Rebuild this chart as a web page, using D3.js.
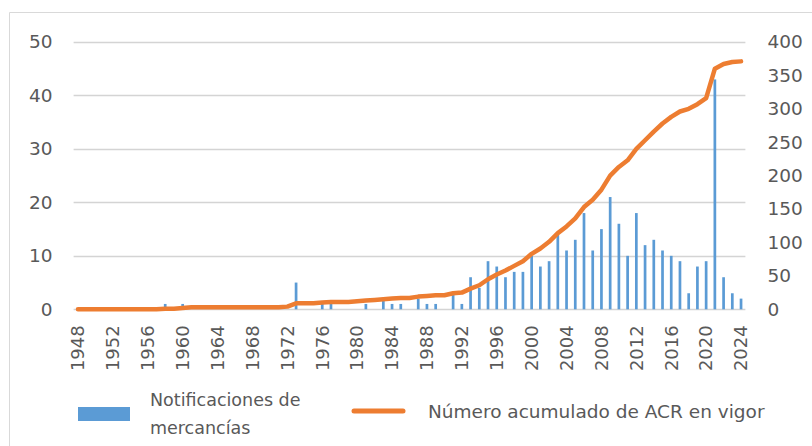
<!DOCTYPE html>
<html>
<head>
<meta charset="utf-8">
<script src="https://cdn.jsdelivr.net/npm/d3@7"></script>
<style>
    body {margin: 0; background: #fff;}
    text {font-family: "DejaVu Sans", sans-serif; fill: #595959;}
</style>
</head>
<body>
<div id="plot1"></div>
<script>
// years 1948 - 2024
var years = d3.range(1948, 2025);

// goods notifications per year (left axis)
var notificaciones = [0,0,0,0,0,0,0,0,0,0,1,0,1,0,0,0,0,0,0,0,0,0,0,0,0,5,0,0,1,1,
    0,0,0,1,0,2,1,1,0,2,1,1,0,3,1,6,4,9,8,6,7,7,10,8,9,14,11,13,18,11,15,21,16,10,18,12,13,11,10,9,3,8,9,43,6,3,2];

// cumulative RTAs in force (right axis)
var acumulado = [0,0,0,0,0,0,0,0,0,0,1,1,2,3,3,3,3,3,3,3,3,3,3,3,4,9,9,9,10,11,
    11,11,12,13,14,15,16,17,17,19,20,21,21,24,25,31,36,45,52,58,65,72,83,91,101,114,124,136,153,164,179,200,213,223,240,253,266,278,288,296,300,307,316,360,367,370,371];

var tickYears = years.filter(function(y){ return (y - 1948) % 4 === 0; });
var leftTicks = [0,10,20,30,40,50];
var rightTicks = [0,50,100,150,200,250,300,350,400];

var W = 812, H = 446;
var margin = {t: 42, l: 73.6, r: 812 - 745.4, b: H - 309.3};
var width = W - margin.l - margin.r,
    height = H - margin.t - margin.b;

var svg = d3.select('#plot1').append('svg')
    .attr('width', W)
    .attr('height', H);

// chart frame
svg.append('path')
    .attr('d', 'M9.5,' + H + 'V12.5H' + W)
    .attr('fill', 'none')
    .attr('stroke', '#d9d9d9')
    .attr('stroke-width', 1);

var g = svg.append('g').attr('transform', 'translate(' + margin.l + ',' + margin.t + ')');

// scales
var x = d3.scaleBand().domain(years).range([0, width]);
var yLeft = d3.scaleLinear().domain([0, 50]).range([height, 0]);
var yRight = d3.scaleLinear().domain([0, 400]).range([height, 0]);

// gridlines
g.append('g').selectAll('line')
    .data(leftTicks)
    .enter().append('line')
    .attr('x1', 0).attr('x2', width)
    .attr('y1', function(d){ return Math.round(yLeft(d)) + 0.5; })
    .attr('y2', function(d){ return Math.round(yLeft(d)) + 0.5; })
    .attr('stroke', '#d4d4d4')
    .attr('stroke-width', function(d){ return d === 0 ? 1.5 : 1.3; });

// left axis
var axisL = d3.axisLeft(yLeft).tickValues(leftTicks).tickSize(0).tickPadding(21);
g.append('g').attr('class', 'axis axis-y').call(axisL)
    .call(function(s){ s.select('.domain').remove(); })
    .selectAll('text').style('font-size', '18.5px').attr('fill', '#595959');

// right axis
var axisR = d3.axisRight(yRight).tickValues(rightTicks).tickSize(0).tickPadding(22);
g.append('g').attr('class', 'axis axis-y2').attr('transform', 'translate(' + width + ',0)').call(axisR)
    .call(function(s){ s.select('.domain').remove(); })
    .selectAll('text').style('font-size', '18.5px').attr('fill', '#595959');

// x axis, rotated labels
var axisX = d3.axisBottom(x).tickValues(tickYears).tickSize(0);
var ax = g.append('g').attr('class', 'axis axis-x').attr('transform', 'translate(0,' + height + ')').call(axisX);
ax.select('.domain').remove();
ax.selectAll('text')
    .style('font-size', '18px')
    .attr('fill', '#595959')
    .attr('text-anchor', 'end')
    .attr('dy', '0.35em')
    .attr('transform', 'translate(0,16) rotate(-90)')
    .attr('x', 0).attr('y', 0);

// bars
var barW = 2.7;
g.append('g').attr('class', 'bars').selectAll('rect')
    .data(years)
    .enter().append('rect')
    .attr('x', function(d){ return x(d) + x.bandwidth() / 2 - barW / 2; })
    .attr('y', function(d, i){ return yLeft(notificaciones[i]); })
    .attr('width', barW)
    .attr('height', function(d, i){ return height - yLeft(notificaciones[i]); })
    .style('fill', '#5b9bd5');

// cumulative line
var line = d3.line()
    .x(function(d){ return x(d) + x.bandwidth() / 2; })
    .y(function(d, i){ return yRight(acumulado[i]); });

g.append('path')
    .datum(years)
    .attr('fill', 'none')
    .attr('stroke', '#ed7d31')
    .attr('stroke-width', 4.5)
    .attr('stroke-linejoin', 'round')
    .attr('stroke-linecap', 'round')
    .attr('d', line);

// legend
var leg = svg.append('g').attr('class', 'legend');
leg.append('rect').attr('x', 78).attr('y', 407).attr('width', 52).attr('height', 14).style('fill', '#5b9bd5');
leg.append('text').attr('x', 150).attr('y', 406).style('font-size', '17.5px').text('Notificaciones de');
leg.append('text').attr('x', 150).attr('y', 434).style('font-size', '17.5px').text('mercancías');
leg.append('line').attr('x1', 354).attr('x2', 403).attr('y1', 411).attr('y2', 411)
    .attr('stroke', '#ed7d31').attr('stroke-width', 5).attr('stroke-linecap', 'round');
leg.append('text').attr('x', 428).attr('y', 418).style('font-size', '18.5px').text('Número acumulado de ACR en vigor');
</script>
</body>
</html>
